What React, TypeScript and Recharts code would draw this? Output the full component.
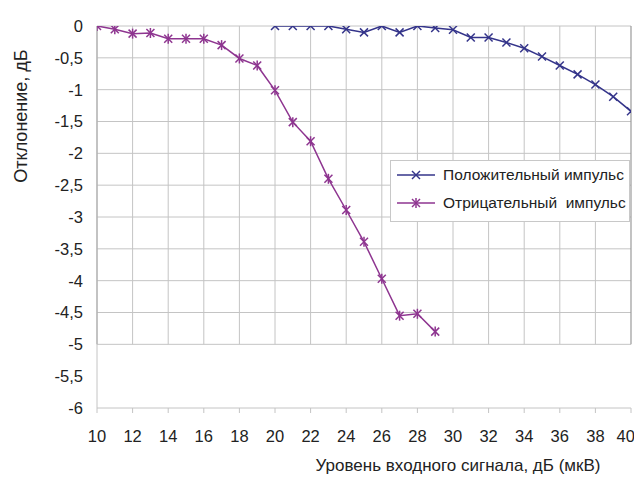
import React from "react";
import { LineChart, Line, XAxis, YAxis, ReferenceLine, Legend } from "recharts";

const xTicks = [10, 12, 14, 16, 18, 20, 22, 24, 26, 28, 30, 32, 34, 36, 38, 40];
const yTicks = [0, -0.5, -1, -1.5, -2, -2.5, -3, -3.5, -4, -4.5, -5, -5.5, -6];
const gridYValues = [0, -0.5, -1, -1.5, -2, -2.5, -3, -3.5, -4, -4.5, -5];
const gridXValues = [12, 14, 16, 18, 20, 22, 24, 26, 28, 30, 32, 34, 36, 38];

const posLabel = "Положительный импульс";
const negLabel = "Отрицательный  импульс";
const xTitle = "Уровень входного сигнала, дБ (мкВ)";
const yTitle = "Отклонение, дБ";

const posX = [20, 21, 22, 23, 24, 25, 26, 27, 28, 29, 30, 31, 32, 33, 34, 35, 36, 37, 38, 39, 40];
const posY = [0, 0, 0, 0, -0.05, -0.1, 0, -0.1, 0, -0.03, -0.06, -0.18, -0.18, -0.26, -0.35, -0.48, -0.62, -0.76, -0.92, -1.11, -1.34];

const negX = [10, 11, 12, 13, 14, 15, 16, 17, 18, 19, 20, 21, 22, 23, 24, 25, 26, 27, 28, 29];
const negY = [0, -0.05, -0.12, -0.11, -0.2, -0.2, -0.2, -0.3, -0.51, -0.62, -1.01, -1.51, -1.81, -2.4, -2.89, -3.39, -3.97, -4.55, -4.52, -4.8];

const posData = posX.map((x, i) => ({ x, y: posY[i] }));
const negData = negX.map((x, i) => ({ x, y: negY[i] }));

const POS_COLOR = "#34348a";
const NEG_COLOR = "#8e3590";
const GRID = "#c4c4c4";
const FONT = "'Liberation Sans', Arial, sans-serif";

const XMark = ({ cx, cy, color }: any) => {
  if (cx == null || cy == null) return <g />;
  const s = 4;
  return (
    <g stroke={color} strokeWidth={1.5}>
      <line x1={cx - s} y1={cy - s} x2={cx + s} y2={cy + s} />
      <line x1={cx - s} y1={cy + s} x2={cx + s} y2={cy - s} />
    </g>
  );
};

const StarMark = ({ cx, cy, color }: any) => {
  if (cx == null || cy == null) return <g />;
  const s = 4;
  return (
    <g stroke={color} strokeWidth={1.5}>
      <line x1={cx - s} y1={cy - s} x2={cx + s} y2={cy + s} />
      <line x1={cx - s} y1={cy + s} x2={cx + s} y2={cy - s} />
      <line x1={cx} y1={cy - s - 1} x2={cx} y2={cy + s + 1} />
    </g>
  );
};

const fmt = (v: number) => String(v).replace(".", ",");

const renderLegend = () => {
  const row = (label: string, color: string, star: boolean) => (
    <div style={{ display: "flex", alignItems: "center", height: 28 }}>
      <svg width={46} height={14} style={{ flex: "none" }}>
        <line x1={6} y1={7} x2={44} y2={7} stroke={color} strokeWidth={1.5} />
        {star ? <StarMark cx={25} cy={7} color={color} /> : <XMark cx={25} cy={7} color={color} />}
      </svg>
      <span style={{ marginLeft: 6, fontSize: 15.5, color: "#222", whiteSpace: "pre", fontFamily: FONT }}>{label}</span>
    </div>
  );
  return (
    <div
      style={{
        border: "1px solid #c8c8c8",
        background: "#fff",
        padding: "0 0 4px 0",
        width: 240,
        boxSizing: "border-box",
      }}
    >
      {row(posLabel, POS_COLOR, false)}
      {row(negLabel, NEG_COLOR, true)}
    </div>
  );
};

export default function App() {
  return (
    <div style={{ position: "relative", width: 626, height: 472, fontFamily: FONT }}>
      <LineChart
        width={626}
        height={472}
        margin={{ top: 18, right: 3, left: 0, bottom: 0 }}
        style={{ fontFamily: FONT }}
      >
        <XAxis
          dataKey="x"
          type="number"
          domain={[10, 40]}
          ticks={xTicks}
          allowDataOverflow
          height={72}
          stroke={GRID}
          tickSize={5}
          tickMargin={17}
          tick={{ fill: "#222", fontSize: 16.5, fontFamily: FONT }}
          label={{
            content: () => (
              <text x={450} y={463} textAnchor="middle" fill="#222" fontSize={17} fontFamily={FONT}>
                {xTitle}
              </text>
            ),
          }}
        />
        <YAxis
          dataKey="y"
          type="number"
          domain={[-6, 0]}
          ticks={yTicks}
          allowDataOverflow
          width={89}
          stroke={GRID}
          tickLine={false}
          tickSize={6}
          tickMargin={8}
          tickFormatter={fmt}
          tick={{ fill: "#222", fontSize: 16.5, fontFamily: FONT }}
          label={{
            content: () => (
              <text
                x={13}
                y={108}
                textAnchor="middle"
                dominantBaseline="central"
                transform="rotate(-90 13 108)"
                fill="#222"
                fontSize={18}
                fontFamily={FONT}
              >
                {yTitle}
              </text>
            ),
          }}
        />
        {gridYValues.map((v) => (
          <ReferenceLine
            key={"h" + v}
            segment={[
              { x: 10, y: v },
              { x: 40, y: v },
            ]}
            stroke={GRID}
            strokeWidth={1}
          />
        ))}
        {gridXValues.map((v) => (
          <ReferenceLine
            key={"v" + v}
            segment={[
              { x: v, y: 0 },
              { x: v, y: -5 },
            ]}
            stroke={GRID}
            strokeWidth={1}
          />
        ))}
        <ReferenceLine
          segment={[
            { x: 10, y: 0 },
            { x: 10, y: -5 },
          ]}
          stroke="#9a9a9a"
          strokeWidth={1.2}
        />
        <ReferenceLine
          segment={[
            { x: 40, y: 0 },
            { x: 40, y: -5 },
          ]}
          stroke="#9a9a9a"
          strokeWidth={1.2}
        />
        <Line
          data={posData}
          dataKey="y"
          name={posLabel}
          stroke={POS_COLOR}
          strokeWidth={1.5}
          isAnimationActive={false}
          dot={(p: any) => <XMark key={"p" + p.index} cx={p.cx} cy={p.cy} color={POS_COLOR} />}
        />
        <Line
          data={negData}
          dataKey="y"
          name={negLabel}
          stroke={NEG_COLOR}
          strokeWidth={1.5}
          isAnimationActive={false}
          dot={(p: any) => <StarMark key={"n" + p.index} cx={p.cx} cy={p.cy} color={NEG_COLOR} />}
        />
        <Legend
          layout="horizontal"
          verticalAlign="middle"
          align="center"
          width={240}
          content={renderLegend}
          wrapperStyle={{ position: "absolute", left: 382, top: 152, width: 240 }}
        />
      </LineChart>
    </div>
  );
}
